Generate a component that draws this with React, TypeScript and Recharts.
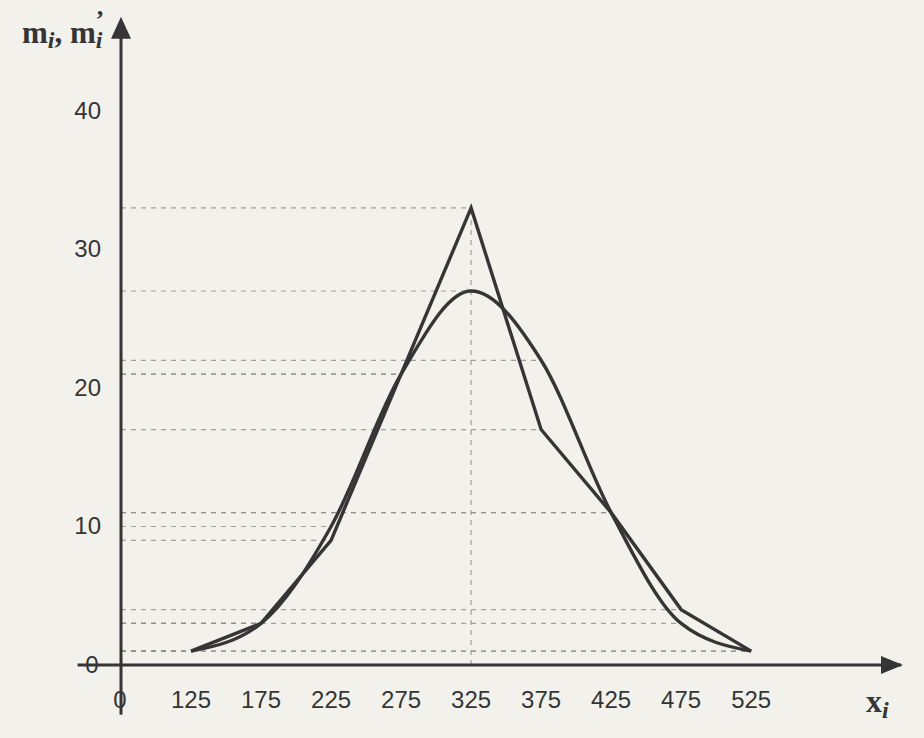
import { LineChart, Line, XAxis, YAxis, ReferenceLine, ReferenceDot } from "recharts";

// class midpoints x_i
const categories = [125, 175, 225, 275, 325, 375, 425, 475, 525];
// empirical frequencies m_i
const empirical = [1, 3, 9, 21, 33, 17, 11, 4, 1];
// theoretical frequencies m_i'
const theoretical = [1, 3, 10, 21, 27, 22, 11, 3, 1];

const xTicks = [75, 125, 175, 225, 275, 325, 375, 425, 475, 525];
const yTicks = [0, 10, 20, 30, 40];

const data = categories.map((x, i) => ({ x, emp: empirical[i], theo: theoretical[i] }));

const ink = "#353535";
const paper = "#f2f1ec";
const guide = "#8c8c8c";

const XTick = (props: any) => {
  const v = props.payload.value;
  return (
    <text x={v === 75 ? props.x - 1 : props.x} y={708} textAnchor="middle" fill={ink}
      fontFamily="'Liberation Sans', Arial, sans-serif" fontSize={24}>
      {v === 75 ? "0" : v}
    </text>
  );
};

const YTick = (props: any) => {
  const v = props.payload.value;
  return (
    <text x={v === 0 ? 92 : 101} y={props.y + 8} textAnchor={v === 0 ? "middle" : "end"} fill={ink}
      fontFamily="'Liberation Sans', Arial, sans-serif" fontSize={24}>
      {v}
    </text>
  );
};

const UpArrow = (props: any) => (
  <polygon points={`${props.cx},${props.cy} ${props.cx - 10},${props.cy + 22} ${props.cx + 10},${props.cy + 22}`} fill={ink} />
);

const RightArrow = (props: any) => (
  <polygon points={`${props.cx + 2},${props.cy} ${props.cx - 20},${props.cy - 9} ${props.cx - 20},${props.cy + 9}`} fill={ink} />
);

// dashed helper lines from the y axis to each plotted point
const guides = [...data.map((d) => ({ x: d.x, y: d.emp })), ...data.map((d) => ({ x: d.x, y: d.theo }))];

export default function App() {
  return (
    <div style={{ position: "absolute", left: 0, top: 0, width: 924, height: 738, background: paper, overflow: "hidden" }}>
      <LineChart width={924} height={738} data={data} margin={{ top: 14, right: 23, bottom: 43, left: 17.6 }}>
        <XAxis
          dataKey="x"
          type="number"
          domain={[44, 632]}
          ticks={xTicks}
          interval={0}
          height={30}
          tickLine={false}
          axisLine={{ stroke: ink, strokeWidth: 3 }}
          tick={<XTick />}
        />
        <YAxis
          type="number"
          domain={[0, 47]}
          ticks={yTicks}
          width={60}
          tickLine={false}
          axisLine={false}
          tick={<YTick />}
        />
        {guides.map((g, i) => (
          <ReferenceLine
            key={"g" + i}
            segment={[{ x: 75, y: g.y }, { x: g.x, y: g.y }]}
            stroke={guide}
            strokeWidth={1.2}
            strokeDasharray="5 5"
            strokeOpacity={0.8}
          />
        ))}
        <ReferenceLine
          segment={[{ x: 325, y: 0 }, { x: 325, y: 33 }]}
          stroke={guide}
          strokeWidth={1.2}
          strokeDasharray="5 5"
          strokeOpacity={0.8}
        />
        <ReferenceLine
          segment={[{ x: 75, y: -3.6 }, { x: 75, y: 45.5 }]}
          stroke={ink}
          strokeWidth={3}
          ifOverflow="visible"
        />
        <ReferenceDot x={75} y={46.8} r={1} ifOverflow="visible" shape={<UpArrow />} />
        <ReferenceDot x={632} y={0} r={1} ifOverflow="visible" shape={<RightArrow />} />
        <Line type="linear" dataKey="emp" stroke={ink} strokeWidth={3.4} dot={false} isAnimationActive={false} strokeLinejoin="miter" />
        <Line type="monotone" dataKey="theo" stroke={ink} strokeWidth={3.4} dot={false} isAnimationActive={false} />
      </LineChart>
      <svg width={924} height={738} style={{ position: "absolute", left: 0, top: 0, pointerEvents: "none" }}>
        <text x={22} y={43} fill={ink} fontFamily="'Liberation Serif', 'Times New Roman', serif" fontWeight="bold" fontSize={31}>
          m<tspan fontStyle="italic" fontSize={24} dy={5}>i</tspan>
          <tspan dy={-5}>, m</tspan>
          <tspan fontStyle="italic" fontSize={24} dy={5}>i</tspan>
          <tspan fontSize={26} dx={-7} dy={-20}>’</tspan>
        </text>
        <text x={866} y={712} fill={ink} fontFamily="'Liberation Serif', 'Times New Roman', serif" fontWeight="bold" fontSize={32}>
          x<tspan fontStyle="italic" fontSize={24} dy={6}>i</tspan>
        </text>
      </svg>
    </div>
  );
}
